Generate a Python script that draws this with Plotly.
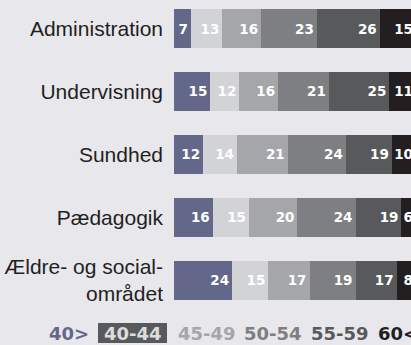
import plotly.graph_objects as go

categories = ["Administration", "Undervisning", "Sundhed", "Pædagogik", "Ældre- og social-<br>området"]
age_groups = ["40>", "40-44", "45-49", "50-54", "55-59", "60<"]
v_under40 = [7, 15, 12, 16, 24]
v_40_44 = [13, 12, 14, 15, 15]
v_45_49 = [16, 16, 21, 20, 17]
v_50_54 = [23, 21, 24, 24, 19]
v_55_59 = [26, 25, 19, 19, 17]
v_60plus = [15, 11, 10, 6, 8]

series = [v_under40, v_40_44, v_45_49, v_50_54, v_55_59, v_60plus]
colors = ["#63678a", "#d2d3d5", "#a5a6a9", "#7e7f82", "#58595b", "#231f20"]
BG = "#e8e7ec"

W, H = 411, 345
ML, MT, MB = 174, 0, 33
plot_w = W - ML
plot_h = H - MT - MB

fig = go.Figure()
for name, vals, col in zip(age_groups, series, colors):
    fig.add_trace(go.Bar(
        name=name, y=categories, x=vals, orientation="h",
        marker=dict(color=col, line=dict(width=0)),
        width=0.62,
        text=[str(v) for v in vals],
        textposition="inside", insidetextanchor="end", constraintext="none",
        textangle=0,
        textfont=dict(family="DejaVu Sans", size=13.5, color="white", weight="bold"),
        hoverinfo="skip",
    ))

px_per_unit = 2.42
fig.update_layout(
    barmode="stack",
    width=W, height=H,
    margin=dict(l=ML, r=0, t=MT, b=MB, pad=0, autoexpand=False),
    paper_bgcolor=BG, plot_bgcolor=BG,
    showlegend=False,
    xaxis=dict(range=[0, plot_w / px_per_unit], visible=False, fixedrange=True),
    yaxis=dict(
        range=[(plot_h - 28.5) / 62.9, -28.5 / 62.9],
        automargin=False, fixedrange=True,
        showgrid=False, zeroline=False, showline=False, ticks="",
        ticklabelstandoff=10,
        tickfont=dict(family="Liberation Sans, Arial", size=21, color="#231f20"),
    ),
)

# legend as coloured text row below the chart
leg_pos_px = [90, 132.5, 177, 243, 310, 377]
leg_anchor = ["right", "center", "left", "left", "left", "left"]
leg_colors = ["#63678a", "#dcdcde", "#a5a6a9", "#7e7f82", "#58595b", "#231f20"]
fig.add_shape(type="rect", xref="paper", yref="paper",
              x0=(98 - ML) / plot_w, x1=(167 - ML) / plot_w,
              y0=-(323 - plot_h) / plot_h, y1=-(343 - plot_h) / plot_h,
              fillcolor="#58595b", line=dict(width=0), layer="below")
for name, lx, anc, col in zip(age_groups, leg_pos_px, leg_anchor, leg_colors):
    fig.add_annotation(
        text=name, xref="paper", yref="paper",
        x=(lx - ML) / plot_w, y=0, xanchor=anc, yanchor="middle",
        yshift=-(333.5 - plot_h), showarrow=False, borderpad=0,
        font=dict(family="DejaVu Sans", size=18, color=col, weight="bold"),
    )

fig.write_html(
    "out.html",
    config={"displayModeBar": False},
    post_script="document.body.style.margin='0';document.body.style.background='" + BG + "';",
)
